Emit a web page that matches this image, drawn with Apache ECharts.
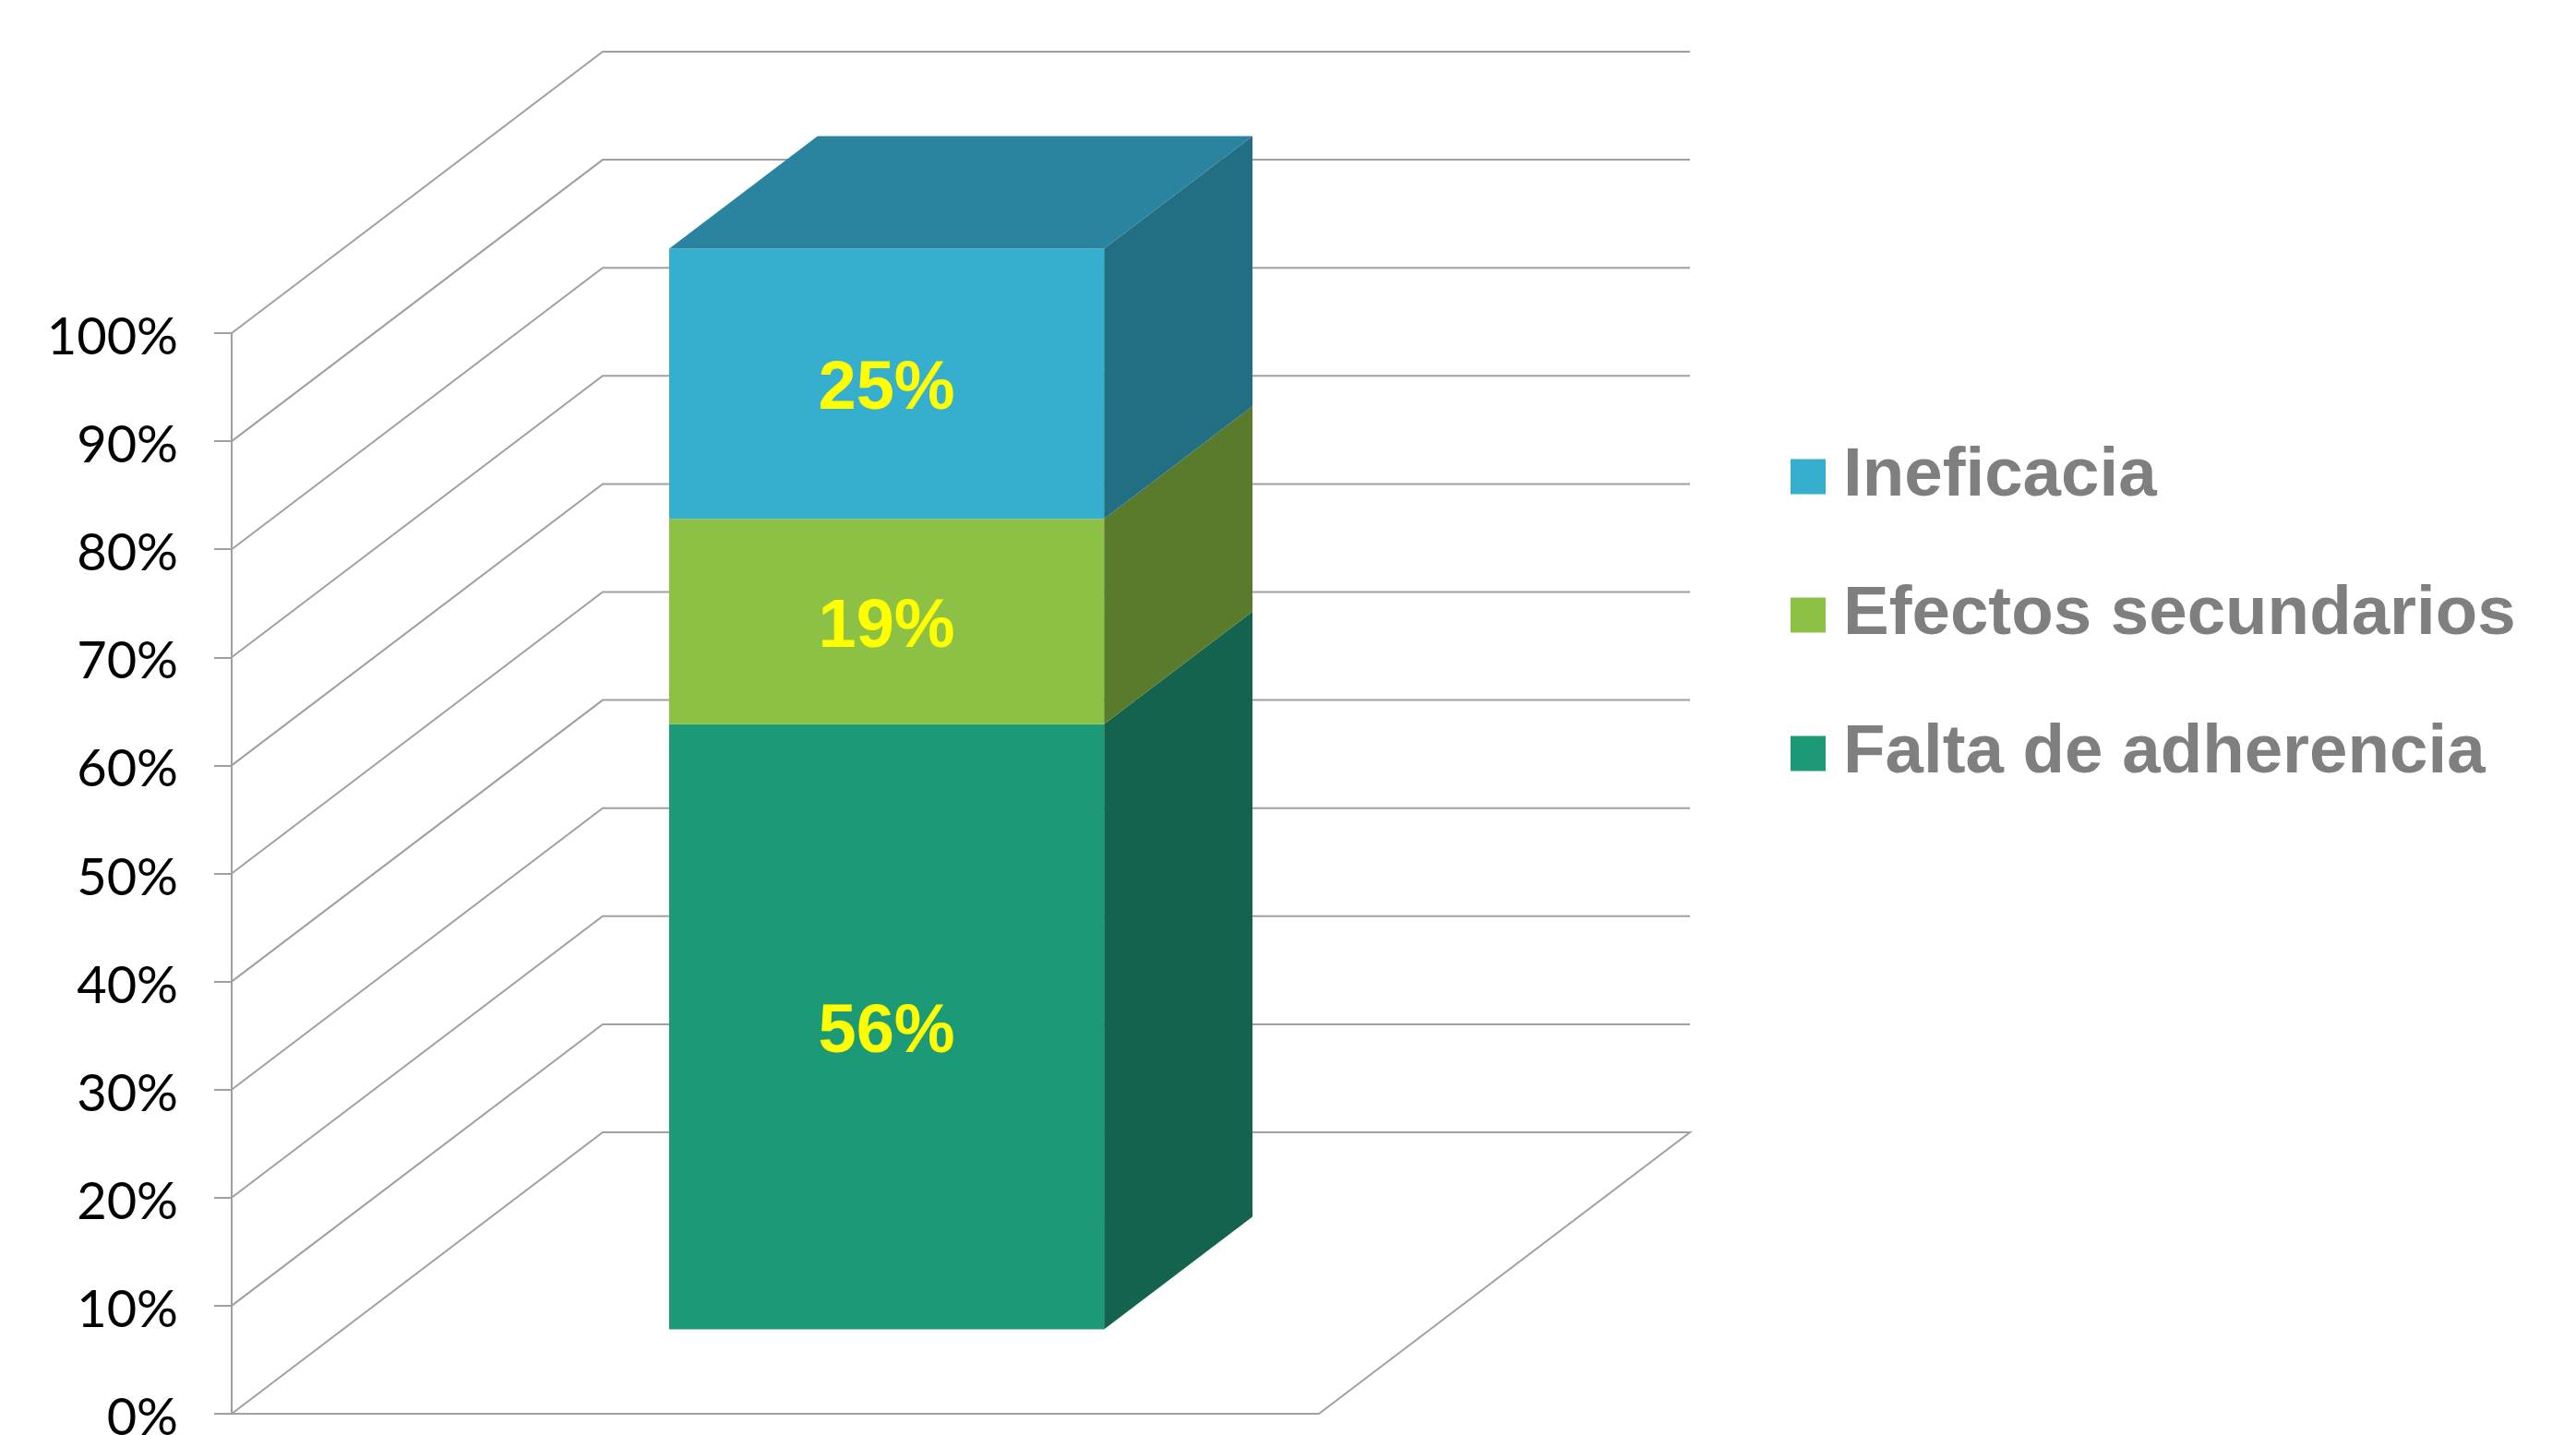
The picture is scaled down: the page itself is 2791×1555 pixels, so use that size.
<!DOCTYPE html>
<html>
<head>
<meta charset="utf-8">
<style>html,body{margin:0;padding:0;background:#fff}#chart{width:2791px;height:1555px}</style>
<script src="https://cdn.jsdelivr.net/npm/echarts@6/dist/echarts.min.js"></script>
</head>
<body>
<div id="chart"></div>
<script>
// Shares stacked from the bottom of the column upwards
const categories = [''];
const segmentNames = ['Falta de adherencia', 'Efectos secundarios', 'Ineficacia'];
const segmentValues = [56, 19, 25];
const tickValues = [0, 10, 20, 30, 40, 50, 60, 70, 80, 90, 100];
const legendOrder = ['Ineficacia', 'Efectos secundarios', 'Falta de adherencia'];

// Shading for each segment's faces, same order as segmentNames
const frontColors = ['#1C9A78', '#8CC146', '#36AECE'];
const sideColors = ['#13634E', '#5A7A2C', '#226F84'];
const topColor = '#2A84A0';
const wallColor = '#A0A0A0';

// Oblique projection: how far the back of the floor shifts from its front edge
const DEPTH_X = 402;
const DEPTH_Y = -305;
// The column occupies this slice of the floor's depth
const COLUMN_NEAR = 0.3;
const COLUMN_FAR = 0.7;
const COLUMN_WIDTH_RATIO = 0.4;

function project(pt, depth) {
  return [pt[0] + DEPTH_X * depth, pt[1] + DEPTH_Y * depth];
}

// Back wall and side wall gridlines, plus the right edge of the floor
function renderWall(params, api) {
  const v = api.value(1);
  const cs = params.coordSys;
  const front = [cs.x, api.coord([0, v])[1]];
  const backL = project(front, 1);
  const backR = [backL[0] + cs.width, backL[1]];
  const points = [front, backL, backR];
  if (v === 0) points.push([cs.x + cs.width, front[1]]);
  return {
    type: 'polyline',
    shape: { points },
    style: { fill: null, stroke: wallColor, lineWidth: 2 }
  };
}

// One stacked segment of the 3D column: front face, side face, and the lid on the last one
function renderSegment(params, api) {
  const idx = params.seriesIndex - 1;
  const low = api.value(1);
  const high = api.value(2);
  const center = api.coord([0, low]);
  const halfW = api.size([1, 0])[0] * COLUMN_WIDTH_RATIO / 2;
  const yLow = center[1];
  const yHigh = api.coord([0, high])[1];
  const fl = project([center[0] - halfW, yLow], COLUMN_NEAR);
  const fr = project([center[0] + halfW, yLow], COLUMN_NEAR);
  const tl = project([center[0] - halfW, yHigh], COLUMN_NEAR);
  const tr = project([center[0] + halfW, yHigh], COLUMN_NEAR);
  const spread = (p) => [p[0] + DEPTH_X * (COLUMN_FAR - COLUMN_NEAR), p[1] + DEPTH_Y * (COLUMN_FAR - COLUMN_NEAR)];
  const children = [
    { type: 'polygon', shape: { points: [fr, spread(fr), spread(tr), tr] }, style: { fill: sideColors[idx] } },
    { type: 'polygon', shape: { points: [fl, fr, tr, tl] }, style: { fill: api.visual('color') } }
  ];
  if (idx === segmentValues.length - 1) {
    children.push({ type: 'polygon', shape: { points: [tl, tr, spread(tr), spread(tl)] }, style: { fill: topColor } });
  }
  children.push({
    type: 'text',
    style: {
      text: Math.round(high - low) + '%',
      x: (fl[0] + fr[0]) / 2,
      y: (tl[1] + fl[1]) / 2 + 7,
      align: 'center',
      verticalAlign: 'middle',
      fill: '#FFFF00',
      font: 'bold 74px "Liberation Sans"'
    }
  });
  return { type: 'group', children };
}

let running = 0;
const segmentSeries = segmentNames.map((name, i) => {
  const low = running;
  running += segmentValues[i];
  return {
    type: 'custom',
    name,
    coordinateSystem: 'cartesian2d',
    renderItem: renderSegment,
    itemStyle: { color: frontColors[i] },
    data: [[0, low, running]],
    encode: { x: 0, y: [1, 2] },
    silent: true,
    z: 3
  };
});

const chart = echarts.init(document.getElementById('chart'));
chart.setOption({
  animation: false,
  backgroundColor: '#fff',
  grid: { left: 251, top: 361, width: 1178, height: 1171, containLabel: false, outerBoundsMode: 'none' },
  xAxis: {
    type: 'category',
    data: categories,
    axisLine: { lineStyle: { color: wallColor, width: 2 } },
    axisTick: { show: false },
    axisLabel: { show: false }
  },
  yAxis: {
    type: 'value',
    min: 0,
    max: 100,
    interval: 10,
    splitLine: { show: false },
    axisLine: { show: true, lineStyle: { color: wallColor, width: 2 } },
    axisTick: { show: true, length: 19, lineStyle: { color: wallColor, width: 2 } },
    axisLabel: {
      margin: 58,
      formatter: '{value}%',
      color: '#000',
      fontFamily: 'Lato',
      fontSize: 56,
      verticalAlign: 'top',
      lineHeight: 10
    }
  },
  legend: {
    orient: 'vertical',
    left: 1940,
    top: 479,
    data: legendOrder,
    icon: 'rect',
    itemWidth: 38,
    itemHeight: 38,
    itemGap: 75,
    textStyle: {
      color: '#7F7F7F',
      fontFamily: 'Liberation Sans',
      fontWeight: 'bold',
      fontSize: 74.5,
      padding: [0, 0, 0, 14]
    },
    padding: 0,
    selectedMode: false
  },
  series: [
    {
      type: 'custom',
      name: 'walls',
      coordinateSystem: 'cartesian2d',
      renderItem: renderWall,
      data: tickValues.map((v) => [0, v]),
      encode: { x: 0, y: 1 },
      silent: true,
      z: 1
    }
  ].concat(segmentSeries)
});
</script>
</body>
</html>
